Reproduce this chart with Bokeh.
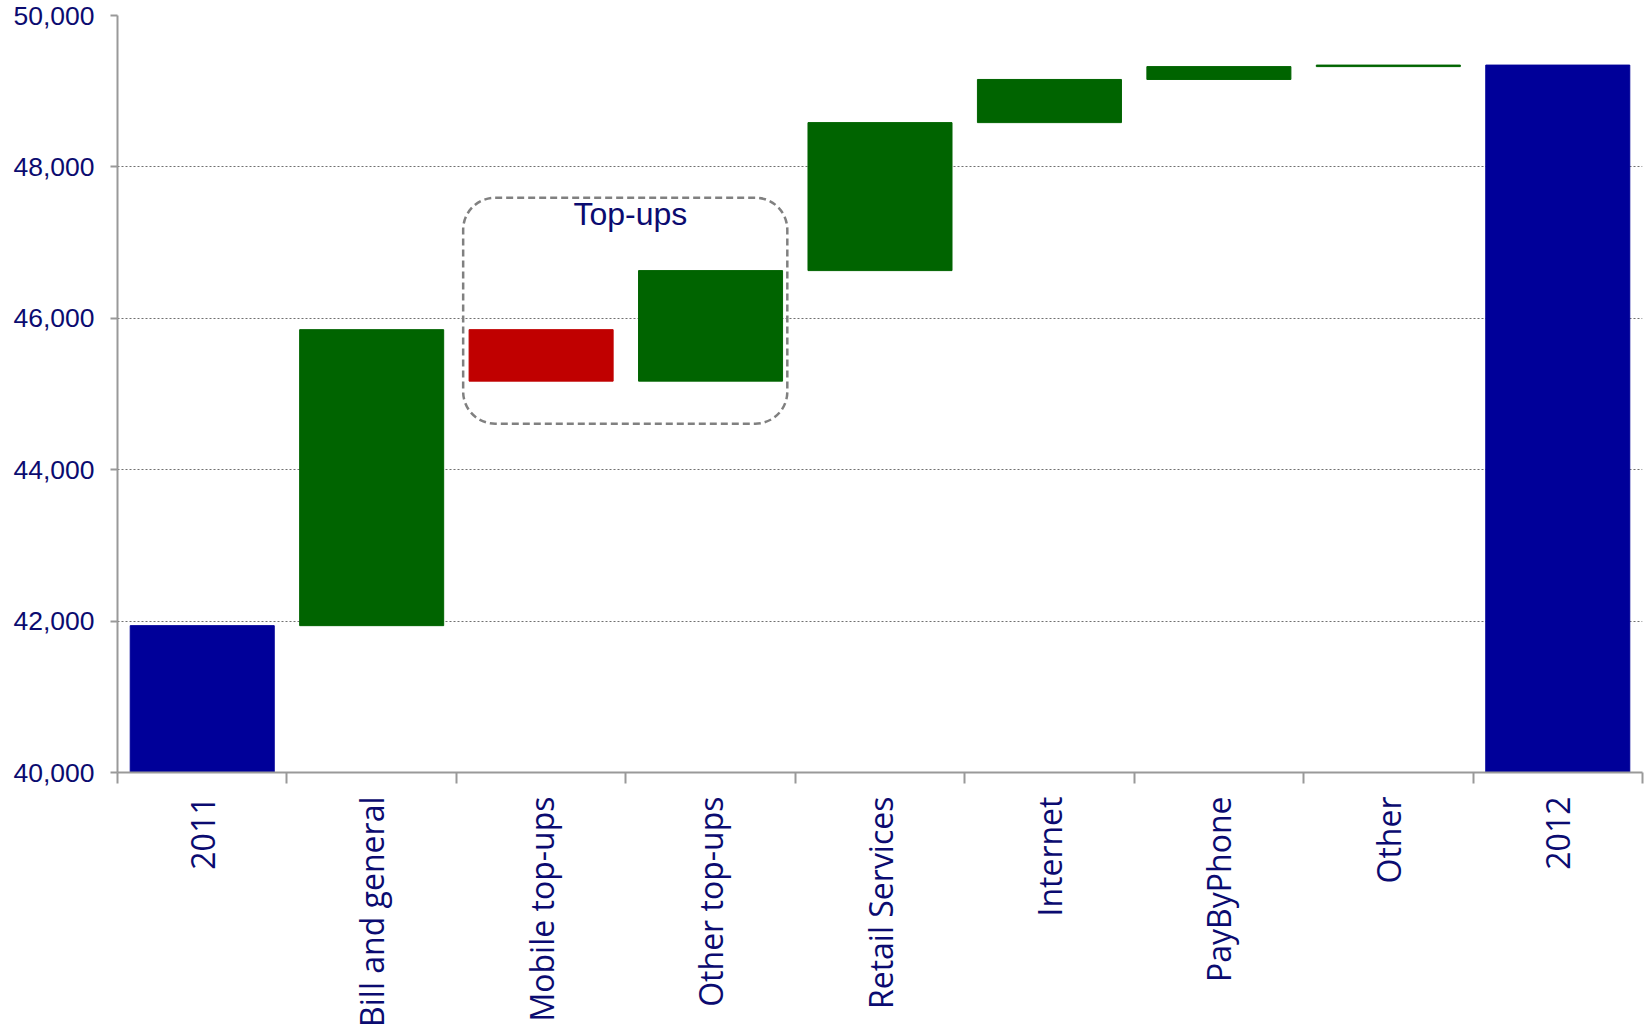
import math
from bokeh.plotting import figure
from bokeh.models import (ColumnDataSource, FixedTicker, NumeralTickFormatter,
                          BoxAnnotation, Label, Range1d)
from bokeh.embed import file_html
from bokeh.resources import INLINE

# ---- data ----
categories = ["2011", "Bill and general", "Mobile top-ups", "Other top-ups",
              "Retail Services", "Internet", "PayByPhone", "Other", "2012"]
start_total = 41940
changes = [3910, -680, 1460, 1955, 570, 170, 20]
y_ticks = [40000, 42000, 44000, 46000, 48000, 50000]
annotation_text = "Top-ups"

BLUE = "#000099"
GREEN = "#006400"
RED = "#C00000"
NAVY = "#0B0B70"

# build waterfall from the values
bottoms, tops, colors = [0], [start_total], [BLUE]
run = start_total
for c in changes:
    new = run + c
    bottoms.append(min(run, new))
    tops.append(max(run, new))
    colors.append(GREEN if c >= 0 else RED)
    run = new
bottoms.append(0)
tops.append(run)
colors.append(BLUE)
xs = [i + 0.5 for i in range(len(categories))]

src = ColumnDataSource(dict(x=xs, bottom=bottoms, top=tops, color=colors))

p = figure(width=1650, height=1033, output_backend="svg", toolbar_location=None,
           x_range=Range1d(0, len(categories)), y_range=Range1d(40000, 50000),
           min_border_left=117, min_border_right=8, min_border_top=15,
           min_border_bottom=261)
p.outline_line_color = None
p.background_fill_color = "white"

p.vbar(x="x", width=0.85, bottom="bottom", top="top", fill_color="color",
       line_color="color", line_width=1, source=src)

# y axis
p.yaxis.ticker = FixedTicker(ticks=y_ticks)
p.yaxis.formatter = NumeralTickFormatter(format="0,0")
p.yaxis.major_label_text_font = "Liberation Sans"
p.yaxis.major_label_text_font_size = "26.5px"
p.yaxis.major_label_text_color = NAVY
p.yaxis.axis_line_color = "#999999"
p.yaxis.axis_line_width = 2
p.yaxis.major_tick_line_color = "#999999"
p.yaxis.major_tick_line_width = 2
p.yaxis.major_tick_out = 7
p.yaxis.major_tick_in = 0
p.yaxis.minor_tick_line_color = None
p.yaxis.major_label_standoff = 16

# grid
p.xgrid.grid_line_color = None
p.ygrid.ticker = FixedTicker(ticks=y_ticks)
p.ygrid.grid_line_color = "#707070"
p.ygrid.grid_line_dash = "2 2"
p.ygrid.grid_line_width = 1

# x axis: labels at centers, tick marks at boundaries
p.xaxis.ticker = FixedTicker(ticks=xs, minor_ticks=list(range(len(categories) + 1)))
p.xaxis.major_label_overrides = {x: c for x, c in zip(xs, categories)}
p.xaxis.major_label_orientation = math.pi / 2
p.xaxis.major_label_text_font = "Open Sans"
p.xaxis.major_label_text_font_size = "32px"
p.xaxis.major_label_text_color = NAVY
p.xaxis.major_tick_out = 0
p.xaxis.major_tick_in = 0
p.xaxis.major_tick_line_color = None
p.xaxis.minor_tick_out = 11
p.xaxis.minor_tick_in = 0
p.xaxis.minor_tick_line_color = "#999999"
p.xaxis.minor_tick_line_width = 2
p.xaxis.axis_line_color = "#999999"
p.xaxis.axis_line_width = 2
p.xaxis.major_label_standoff = 13

# dashed rounded box around the top-ups
box = BoxAnnotation(left=2.04, right=3.953, bottom=44608, top=47593,
                    fill_alpha=0, line_color="#808080", line_alpha=1.0,
                    line_width=2.5, line_dash="7 4", border_radius=32)
p.add_layout(box)
p.add_layout(Label(x=3.027, y=47382, text=annotation_text, text_align="center",
                   text_baseline="middle", text_font="Liberation Sans",
                   text_font_size="32px", text_color=NAVY))

open("out.html", "w").write(file_html(p, INLINE))
